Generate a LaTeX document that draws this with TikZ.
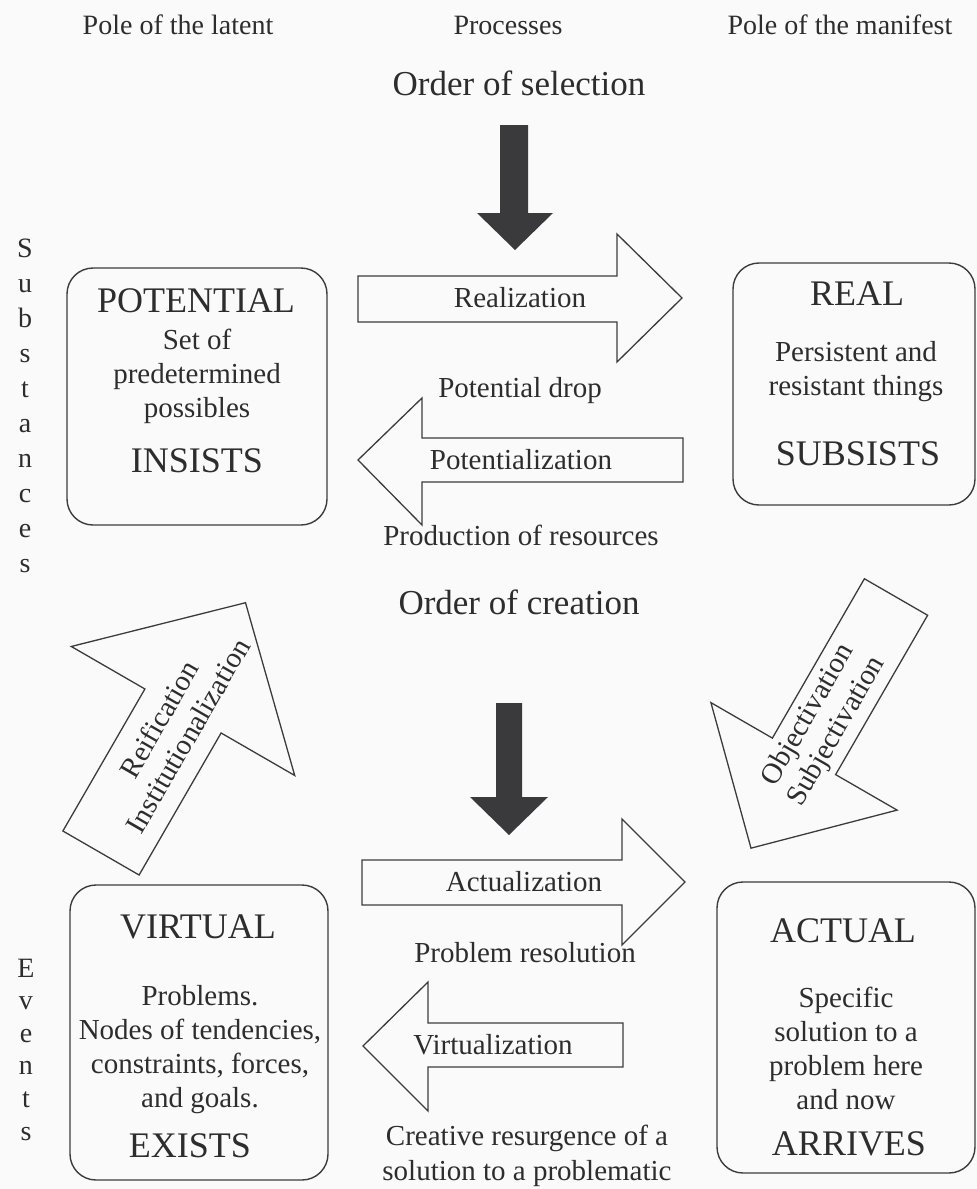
\documentclass[tikz,border=0pt]{standalone}
\usepackage{fontspec}
\setmainfont{Liberation Serif}
\usepackage{xcolor}
\definecolor{inkGray}{RGB}{45,45,45}
\definecolor{lineGray}{RGB}{60,60,60}
\definecolor{darkArrow}{RGB}{58,58,60}
\definecolor{paperWhite}{RGB}{250,250,250}

\begin{document}
\begin{tikzpicture}[x=1pt, y=-1pt,
    every node/.style={text=inkGray, inner sep=0pt},
    pole/.style={draw=lineGray, line width=1.4pt, rounded corners=26pt},
    bigword/.style={anchor=base, font=\fontsize{36}{40}\selectfont},
    bodytext/.style={anchor=base, align=center, font=\fontsize{29}{34}\selectfont},
    header/.style={anchor=base, font=\fontsize{28}{32}\selectfont},
    ordertext/.style={anchor=base, font=\fontsize{35}{40}\selectfont},
    sidetext/.style={anchor=base, align=center, font=\fontsize{28}{35}\selectfont},
    blockarrow/.style={draw=lineGray, line width=1.3pt, line join=miter},
    proclabel/.style={align=center, font=\fontsize{29}{33}\selectfont}]
    % Page
    \fill[paperWhite] (0,0) rectangle (977,1189);
    \useasboundingbox (0,0) rectangle (977,1189);

    % Column headers
    \node[header] (latent) at (178,34) {Pole of the latent};
    \node[header] (processes) at (508,34) {Processes};
    \node[header] (manifest) at (840,34) {Pole of the manifest};

    % Orders
    \node[ordertext] (selection) at (519,95) {Order of selection};
    \node[ordertext] (creation) at (519,614) {Order of creation};
    \fill[darkArrow] (500,125) -- (528,125) -- (528,213) -- (553,213) -- (515,250) -- (477,213) -- (500,213) -- cycle;
    \fill[darkArrow] (496,703) -- (522,703) -- (522,797) -- (548,797) -- (509,835) -- (470,797) -- (496,797) -- cycle;

    % Side labels (base = last line)
    \node[sidetext] (substances) at (25,572) {S\\u\\b\\s\\t\\a\\n\\c\\e\\s};
    \node[sidetext, font=\fontsize{28}{32.6}\selectfont] (events) at (26,1140) {E\\v\\e\\n\\t\\s};

    % Potential
    \node[pole, minimum width=260pt, minimum height=257pt] (potential) at (197,396.5) {};
    \node[bigword] (potTitle) at (196,312) {POTENTIAL};
    \node[bodytext] (potText) at (197,417) {Set of\\predetermined\\possibles};
    \node[bigword] (insists) at (197,472) {INSISTS};

    % Real
    \node[pole, minimum width=242pt, minimum height=242pt] (real) at (854,384) {};
    \node[bigword] (realTitle) at (857,305) {REAL};
    \node[bodytext] (realText) at (856,395) {Persistent and\\resistant things};
    \node[bigword] (subsists) at (858,465) {SUBSISTS};

    % Virtual
    \node[pole, minimum width=258pt, minimum height=295pt] (virtual) at (199,1032.5) {};
    \node[bigword] (virtTitle) at (198,938) {VIRTUAL};
    \node[bodytext] (virtText) at (200,1107) {Problems.\\Nodes of tendencies,\\constraints, forces,\\and goals.};
    \node[bigword] (exists) at (190,1157) {EXISTS};

    % Actual
    \node[pole, minimum width=258pt, minimum height=291pt] (actual) at (846,1027.5) {};
    \node[bigword] (actTitle) at (843,942) {ACTUAL};
    \node[bodytext] (actText) at (846,1109) {Specific\\solution to a\\problem here\\and now};
    \node[bigword] (arrives) at (849,1155) {ARRIVES};

    % Processes between latent and manifest
    \draw[blockarrow] (358,276) -- (617,276) -- (617,234) -- (682,298) -- (617,362) -- (617,322) -- (358,322) -- cycle;
    \node[proclabel] (realization) at (520,298) {Realization};
    \node[bodytext] (drop) at (520,397) {Potential drop};
    \draw[blockarrow] (683,438) -- (422,438) -- (422,398) -- (358,460) -- (422,525) -- (422,482) -- (683,482) -- cycle;
    \node[proclabel] (potentialization) at (521,460) {Potentialization};
    \node[bodytext] (resources) at (521,545) {Production of resources};

    \draw[blockarrow] (362,860) -- (622,860) -- (622,819) -- (685,882) -- (622,945) -- (622,905) -- (362,905) -- cycle;
    \node[proclabel] (actualization) at (524,882) {Actualization};
    \node[bodytext] (resolution) at (525,962) {Problem resolution};
    \draw[blockarrow] (623,1023) -- (428,1023) -- (428,982) -- (363,1046) -- (428,1111) -- (428,1067) -- (623,1067) -- cycle;
    \node[proclabel] (virtualization) at (493,1045) {Virtualization};
    \node[bodytext, font=\fontsize{29}{35}\selectfont] (resurgence) at (527,1180) {Creative resurgence of a\\solution to a problematic};

    % Between substances and events
    \begin{scope}[shift={(101,853)}, rotate=60]
        \draw[blockarrow] (0,-44) -- (164,-44) -- (164,-129) -- (289,0) -- (164,129) -- (164,44) -- (0,44) -- cycle;
        \node[proclabel, rotate=60] (reification) at (145,0) {Reification\\Institutionalization};
    \end{scope}
    \begin{scope}[shift={(896,597)}, rotate=240]
        \draw[blockarrow] (0,-36.5) -- (184,-36.5) -- (184,-107.5) -- (290,0) -- (184,107.5) -- (184,36.5) -- (0,36.5) -- cycle;
        \node[proclabel, rotate=60] (objectivation) at (146,0) {Objectivation\\Subjectivation};
    \end{scope}
\end{tikzpicture}
\end{document}
